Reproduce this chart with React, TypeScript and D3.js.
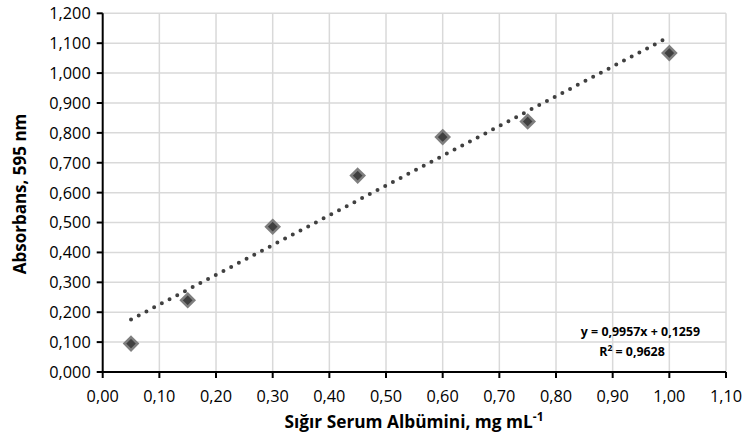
import React from "react";
import * as d3 from "d3";

const xValues = [0.05, 0.15, 0.3, 0.45, 0.6, 0.75, 1.0];
const yValues = [0.095, 0.24, 0.486, 0.657, 0.786, 0.838, 1.067];
const xTicks = [0, 0.1, 0.2, 0.3, 0.4, 0.5, 0.6, 0.7, 0.8, 0.9, 1.0, 1.1];
const yTicks = [0, 0.1, 0.2, 0.3, 0.4, 0.5, 0.6, 0.7, 0.8, 0.9, 1.0, 1.1, 1.2];
const slope = 0.9957;
const intercept = 0.1259;
const eqText = "y = 0,9957x + 0,1259";
const r2Value = "0,9628";

const W = 744;
const H = 443;
const FONT = "'Open Sans', sans-serif";

export default function App() {
  const x = d3.scaleLinear().domain([0, 1.1]).range([102.7, 726]);
  const y = d3.scaleLinear().domain([0, 1.2]).range([372, 13.3]);
  const fmtX = (v: number) => v.toFixed(2).replace(".", ",");
  const fmtY = (v: number) => v.toFixed(3).replace(".", ",");
  const diamond = d3.symbol().type(d3.symbolDiamond2 || d3.symbolSquare).size(110);
  const trendX = [xValues[0], xValues[xValues.length - 1]];
  const line = d3
    .line<number>()
    .x((d) => x(d))
    .y((d) => y(slope * d + intercept));

  return (
    <svg
      width={W}
      height={H}
      style={{ position: "absolute", left: 0, top: 0, background: "#fff" }}
    >
      {/* grid */}
      {xTicks.slice(1).map((t) => (
        <line key={"gx" + t} x1={x(t)} x2={x(t)} y1={y(1.2)} y2={y(0)} stroke="#d9d9d9" strokeWidth={1.5} />
      ))}
      {yTicks.slice(1).map((t) => (
        <line key={"gy" + t} x1={x(0)} x2={x(1.1)} y1={y(t)} y2={y(t)} stroke="#d9d9d9" strokeWidth={1.5} />
      ))}
      {/* axes */}
      <line x1={x(0)} x2={x(0)} y1={y(1.2)} y2={y(0)} stroke="#000" strokeWidth={2} />
      <line x1={x(0)} x2={x(1.1)} y1={y(0)} y2={y(0)} stroke="#000" strokeWidth={2} />
      {yTicks.map((t) => (
        <g key={"ty" + t}>
          <line x1={x(0) - 6} x2={x(0)} y1={y(t)} y2={y(t)} stroke="#000" strokeWidth={2} />
          <text x={x(0) - 12} y={y(t)} dy="0.36em" textAnchor="end" fontFamily={FONT} fontSize={16.3} fill="#000">
            {fmtY(t)}
          </text>
        </g>
      ))}
      {xTicks.map((t) => (
        <g key={"tx" + t}>
          <line x1={x(t)} x2={x(t)} y1={y(0)} y2={y(0) + 6} stroke="#000" strokeWidth={2} />
          <text x={x(t)} y={y(0) + 30} textAnchor="middle" fontFamily={FONT} fontSize={16.3} fill="#000">
            {fmtX(t)}
          </text>
        </g>
      ))}
      {/* trendline */}
      <path
        d={line(trendX) || ""}
        fill="none"
        stroke="#404040"
        strokeWidth={4}
        strokeLinecap="round"
        strokeDasharray="0 8.7"
      />
      {/* markers */}
      {xValues.map((xv, i) => (
        <path
          key={"m" + i}
          d={diamond() || ""}
          transform={`translate(${x(xv)},${y(yValues[i])})`}
          fill="#404040"
          stroke="#7f7f7f"
          strokeWidth={2.5}
        />
      ))}
      {/* equation */}
      <text x={700} y={336} textAnchor="end" fontFamily={FONT} fontWeight="bold" fontSize={12.4} fill="#000">
        {eqText}
      </text>
      <text x={632} y={356} textAnchor="middle" fontFamily={FONT} fontWeight="bold" fontSize={12.4} fill="#000">
        R<tspan dy={-5} fontSize={8.5}>2</tspan>
        <tspan dy={5}> = {r2Value}</tspan>
      </text>
      {/* axis titles */}
      <text x={414} y={428} textAnchor="middle" fontFamily={FONT} fontWeight="bold" fontSize={17.3} fill="#000">
        Sığır Serum Albümini, mg mL<tspan dy={-7} fontSize={12}>-1</tspan>
      </text>
      <text
        transform={`translate(26,194) rotate(-90)`}
        textAnchor="middle"
        fontFamily={FONT}
        fontWeight="bold"
        fontSize={17}
        fill="#000"
      >
        Absorbans, 595 nm
      </text>
    </svg>
  );
}
